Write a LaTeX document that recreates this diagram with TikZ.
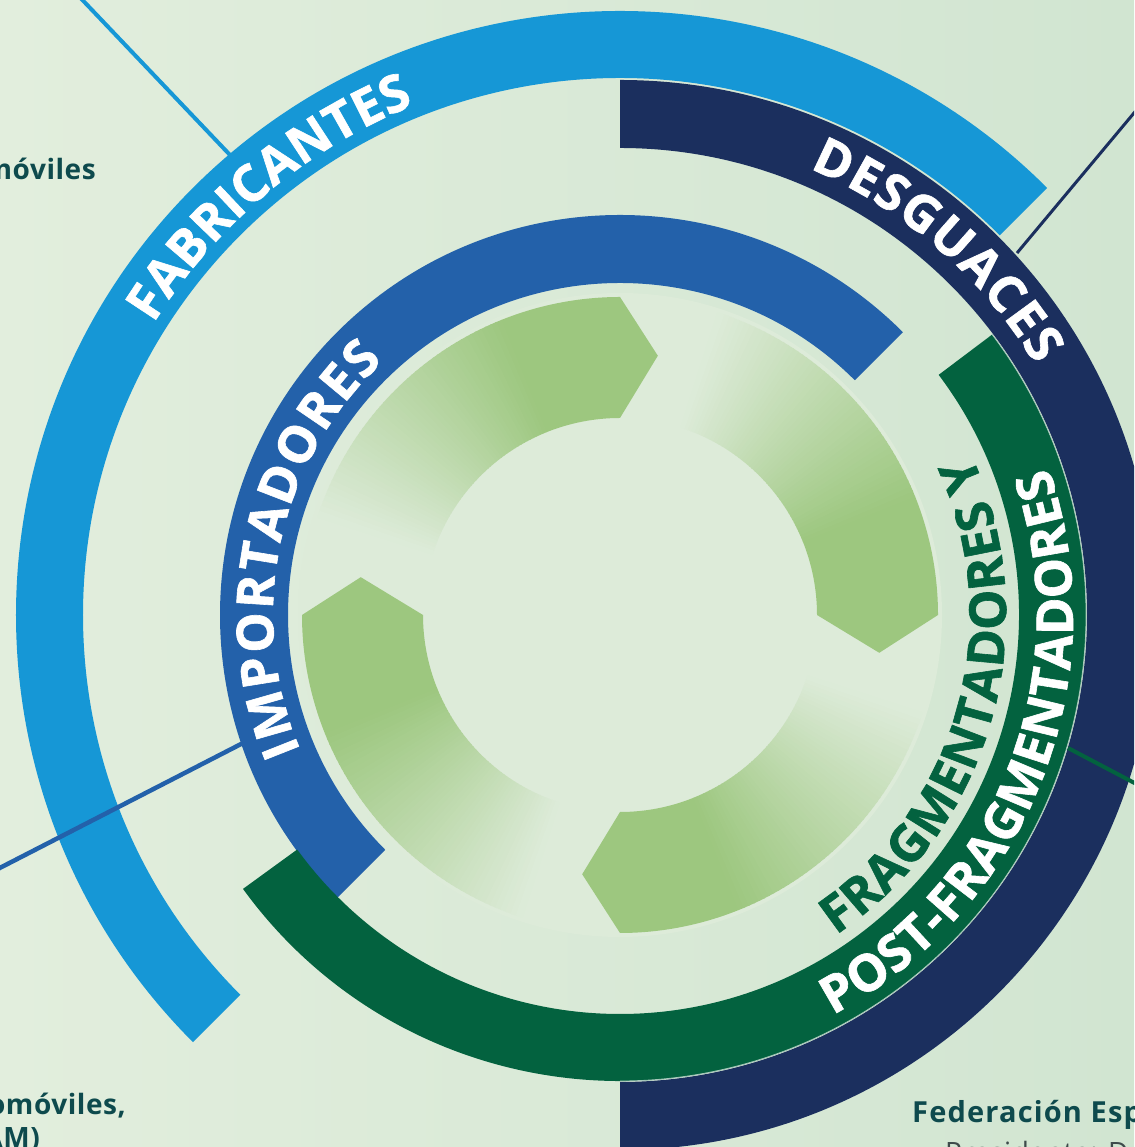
\documentclass[tikz,border=0pt]{standalone}
\usepackage{fontspec}
\setmainfont{Open Sans}
\usetikzlibrary{decorations.text}
\definecolor{bgL}{HTML}{E2EEDD}
\definecolor{bgR}{HTML}{D1E5D1}
\definecolor{halo}{HTML}{DDEBD9}
\definecolor{cSky}{HTML}{1697D6}
\definecolor{cNavy}{HTML}{1B2F5E}
\definecolor{cMid}{HTML}{2361AA}
\definecolor{cGreen}{HTML}{03623F}
\definecolor{cLeaf}{HTML}{9DC77F}
\definecolor{cTeal}{HTML}{0E4A4D}
\definecolor{cGrey}{HTML}{3E4B4B}
\newcommand\ringseg[5]{\fill[#1] (#2:#5) arc[start angle=#2,end angle=#3,radius=#5] -- (#3:#4) arc[start angle=#3,end angle=#2,radius=#4] -- cycle;}
\newcommand\bandfont{\fontsize{51}{51}\selectfont\bfseries\addfontfeature{FakeBold=1.2}}
\tikzset{
  sidetext/.style={font=\fontsize{28}{32}\selectfont\bfseries\addfontfeature{LetterSpace=2}, text=cTeal, inner sep=0pt},
}
\begin{document}
\begin{tikzpicture}[x=1pt,y=1pt]
\useasboundingbox (0,0) rectangle (1134,1147);
\clip (0,0) rectangle (1134,1147);
\shade[left color=bgL,right color=bgR] (0,0) rectangle (1134,1147);
\begin{scope}[shift={(620,532)}]
  \fill[halo] (0,0) circle[radius=322pt];
  % inner circular arrows
  \foreach \h in {90,0,-90,180}{
    \pgfmathsetmacro\tip{\h-8.3}
    \pgfmathsetmacro\sA{\h+22}
    \fill[cLeaf] (\h:318pt) -- (\tip:262pt) -- (\h:197pt) arc[start angle=\h,end angle=\sA,radius=197pt] -- (\sA:318pt) arc[start angle=\sA,end angle=\h,radius=318pt] -- cycle;
    \foreach \i in {0,...,49}{
      \pgfmathsetmacro\aS{\h+22+\i-0.15}
      \pgfmathsetmacro\aE{\h+23+\i+0.15}
      \pgfmathsetmacro\pc{100*(1-(\i+0.5)/50)}
      \fill[cLeaf!\pc!halo] (\aS:318pt) arc[start angle=\aS,end angle=\aE,radius=318pt] -- (\aE:197pt) arc[start angle=\aE,end angle=\aS,radius=197pt] -- cycle;
    }
  }
  % rings
  \ringseg{cSky}{45}{225}{537pt}{604pt}
  \ringseg{cNavy}{-90}{90}{467pt}{535pt}
  \ringseg{cMid}{45}{225}{332pt}{400pt}
  \ringseg{cGreen}{-144}{37}{399pt}{466pt}
  \draw[cGreen!35!white, line width=0.8pt] (37:466pt) arc[start angle=37,end angle=-90,radius=466pt];
\end{scope}
% connector lines
\coordinate (skyEnd) at (72,1158); \coordinate (skyArc) at (230,992);
\coordinate (navyEnd) at (1144,1046); \coordinate (navyArc) at (1017,894);
\coordinate (midEnd) at (-10,274); \coordinate (midArc) at (245,405);
\coordinate (greenArc) at (1068,399); \coordinate (greenEnd) at (1144,359);
\draw[cSky, line width=4pt] (skyEnd) -- (skyArc);
\draw[cNavy, line width=3pt] (navyEnd) -- (navyArc);
\draw[cMid, line width=4.5pt] (midEnd) -- (midArc);
\draw[cGreen, line width=4pt] (greenArc) -- (greenEnd);
% ring labels
\begin{scope}[shift={(620,532)}]
  \path[decorate, decoration={text along path, text align=fit to path, text color=white, text={|\bandfont|FABRICANTES}}] (148:550pt) arc[start angle=148,end angle=112,radius=550pt];
  \path[decorate, decoration={text along path, text align=fit to path, text color=white, text={|\bandfont|DESGUACES}}] (67:485pt) arc[start angle=67,end angle=31,radius=485pt];
  \path[decorate, decoration={text along path, text align=fit to path, text color=white, text={|\bandfont|IMPORTADORES}}] (203:347pt) arc[start angle=203,end angle=133,radius=347pt];
  \path[decorate, decoration={text along path, text align=fit to path, text color=cGreen, text={|\bandfont|FRAGMENTADORES Y}}] (-56:386pt) arc[start angle=-56,end angle=24.5,radius=386pt];
  \path[decorate, decoration={text along path, text align=fit to path, text color=white, text={|\bandfont|POST-FRAGMENTADORES}}] (-62:453pt) arc[start angle=-62,end angle=19,radius=453pt];
\end{scope}
% side texts
\node[sidetext, anchor=base east] (t1) at (96,967) {móviles};
\node[sidetext, anchor=base east] (t2) at (126,32) {omóviles,};
\node[sidetext, anchor=base east] (t3) at (40,-1) {AM)};
\node[sidetext, anchor=base west, font=\fontsize{29}{32}\selectfont\bfseries\addfontfeature{LetterSpace=4}] (t4) at (912,24) {Federación Esp};
\node[sidetext, anchor=base west, font=\fontsize{28}{32}\selectfont\addfontfeature{LetterSpace=2}, text=cGrey] (t5) at (945,-15) {Presidente: D};
\end{tikzpicture}
\end{document}
